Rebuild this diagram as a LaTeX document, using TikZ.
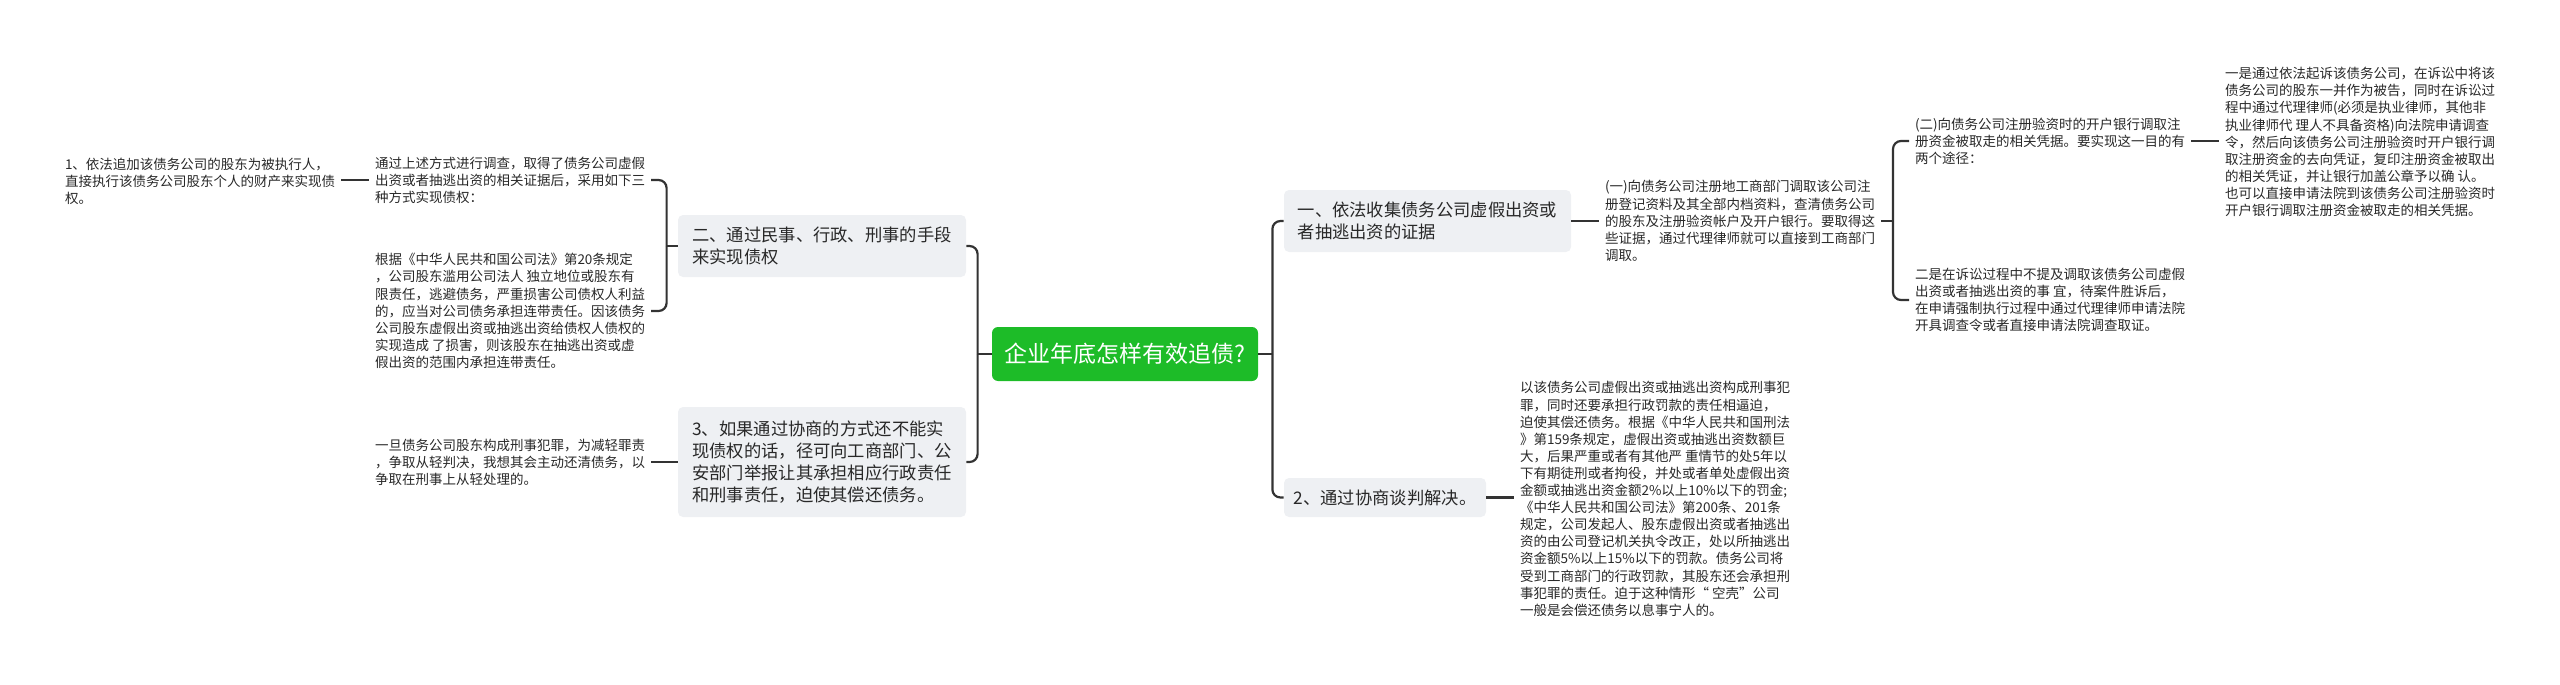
\documentclass[tikz,border=0pt]{standalone}
\usepackage{fontspec}
\setmainfont{Noto Sans CJK SC}
\definecolor{linec}{RGB}{51,51,51}
\definecolor{textc}{RGB}{40,40,40}
\definecolor{boxc}{RGB}{238,240,243}
\definecolor{rootc}{RGB}{29,188,40}
\tikzset{
  conn/.style={draw=linec, line width=1.1pt, rounded corners=4pt},
  leaf/.style={anchor=west, align=left, inner sep=0pt, outer sep=3pt, text=textc,
    font=\fontsize{6.75pt}{8.55pt}\selectfont},
  box/.style={fill=boxc, rounded corners=2.5pt, align=left, inner sep=0pt, text=textc,
    font=\fontsize{8.65pt}{11pt}\selectfont},
  root/.style={fill=rootc, rounded corners=3pt, align=center, inner sep=0pt, text=white,
    font=\fontsize{11.5pt}{13pt}\selectfont, minimum width=133pt, minimum height=27pt}
}
\begin{document}
\begin{tikzpicture}[x=0.5pt,y=-0.5pt]
\useasboundingbox (0,0) rectangle (2560,685);
% root
\node[root] (root) at (1125,354) {企业年底怎样有效追债?};
% main branches
\node[box, minimum width=144pt, minimum height=31pt] (bl1) at (822,246)
  {二、通过民事、行政、刑事的手段\\来实现债权};
\node[box, minimum width=144pt, minimum height=55pt] (bl2) at (822,462)
  {3、如果通过协商的方式还不能实\\现债权的话，径可向工商部门、公\\安部门举报让其承担相应行政责任\\和刑事责任，迫使其偿还债务。};
\node[box, minimum width=143.5pt, minimum height=31pt] (br1) at (1427.5,221)
  {一、依法收集债务公司虚假出资或\\者抽逃出资的证据};
\node[box, minimum width=101pt, minimum height=19.5pt] (br2) at (1385,497.5)
  {2、通过协商谈判解决。};
% left leaves
\node[leaf] (L1) at (59,181)
  {1、依法追加该债务公司的股东为被执行人，\\直接执行该债务公司股东个人的财产来实现债\\权。};
\node[leaf] (L2) at (369,180)
  {通过上述方式进行调查，取得了债务公司虚假\\出资或者抽逃出资的相关证据后，采用如下三\\种方式实现债权：};
\node[leaf] (L3) at (369,311)
  {根据《中华人民共和国公司法》第20条规定\\，公司股东滥用公司法人 独立地位或股东有\\限责任，逃避债务，严重损害公司债权人利益\\的，应当对公司债务承担连带责任。因该债务\\公司股东虚假出资或抽逃出资给债权人债权的\\实现造成 了损害，则该股东在抽逃出资或虚\\假出资的范围内承担连带责任。};
\node[leaf] (L4) at (369,462)
  {一旦债务公司股东构成刑事犯罪，为减轻罪责\\，争取从轻判决，我想其会主动还清债务，以\\争取在刑事上从轻处理的。};
% right leaves
\node[leaf] (R1) at (1599,221)
  {(一)向债务公司注册地工商部门调取该公司注\\册登记资料及其全部内档资料，查清债务公司\\的股东及注册验资帐户及开户银行。要取得这\\些证据，通过代理律师就可以直接到工商部门\\调取。};
\node[leaf] (R2) at (1909,141)
  {(二)向债务公司注册验资时的开户银行调取注\\册资金被取走的相关凭据。要实现这一目的有\\两个途径：};
\node[leaf] (R3) at (2219,142)
  {一是通过依法起诉该债务公司，在诉讼中将该\\债务公司的股东一并作为被告，同时在诉讼过\\程中通过代理律师(必须是执业律师，其他非\\执业律师代 理人不具备资格)向法院申请调查\\令，然后向该债务公司注册验资时开户银行调\\取注册资金的去向凭证，复印注册资金被取出\\的相关凭证，并让银行加盖公章予以确 认。\\也可以直接申请法院到该债务公司注册验资时\\开户银行调取注册资金被取走的相关凭据。};
\node[leaf] (R4) at (1909,300)
  {二是在诉讼过程中不提及调取该债务公司虚假\\出资或者抽逃出资的事 宜，待案件胜诉后，\\在申请强制执行过程中通过代理律师申请法院\\开具调查令或者直接申请法院调查取证。};
\node[leaf] (R5) at (1514,499)
  {以该债务公司虚假出资或抽逃出资构成刑事犯\\ 罪，同时还要承担行政罚款的责任相逼迫，\\迫使其偿还债务。根据《中华人民共和国刑法\\》第159条规定，虚假出资或抽逃出资数额巨\\大，后果严重或者有其他严 重情节的处5年以\\下有期徒刑或者拘役，并处或者单处虚假出资\\金额或抽逃出资金额2\%以上10\%以下的罚金;\\《中华人民共和国公司法》第200条、201条\\规定，公司发起人、股东虚假出资或者抽逃出\\资的由公司登记机关执令改正，处以所抽逃出\\资金额5\%以上15\%以下的罚款。债务公司将\\受到工商部门的行政罚款，其股东还会承担刑\\事犯罪的责任。迫于这种情形“ 空壳”公司\\一般是会偿还债务以息事宁人的。};
% connectors: root
\draw[conn] (root.east) -- ++(14,0) coordinate (jr);
\draw[conn] (jr) |- (br1.west);
\draw[conn] (jr) |- (br2.west);
\draw[conn] (root.west) -- ++(-14,0) coordinate (jl);
\draw[conn] (jl) |- (bl1.east);
\draw[conn] (jl) |- (bl2.east);
% right side
\draw[conn] (br1.east) -- (br1.east -| R1.west);
\draw[conn] (R1.east) -- ++(12,0) coordinate (j1);
\draw[conn] (j1) |- (R2.west);
\draw[conn] (j1) |- (R4.west);
\draw[conn] (R2.east) -- (R2.east -| R3.west);
\draw[conn] (br2.east) -- (br2.east -| R5.west);
% left side
\draw[conn] (bl1.west) -- ++(-11,0) coordinate (j2);
\draw[conn] (j2) |- (L2.east);
\draw[conn] (j2) |- (L3.east);
\draw[conn] (L2.west) -- (L2.west -| L1.east);
\draw[conn] (bl2.west) -- (bl2.west -| L4.east);
\end{tikzpicture}
\end{document}
